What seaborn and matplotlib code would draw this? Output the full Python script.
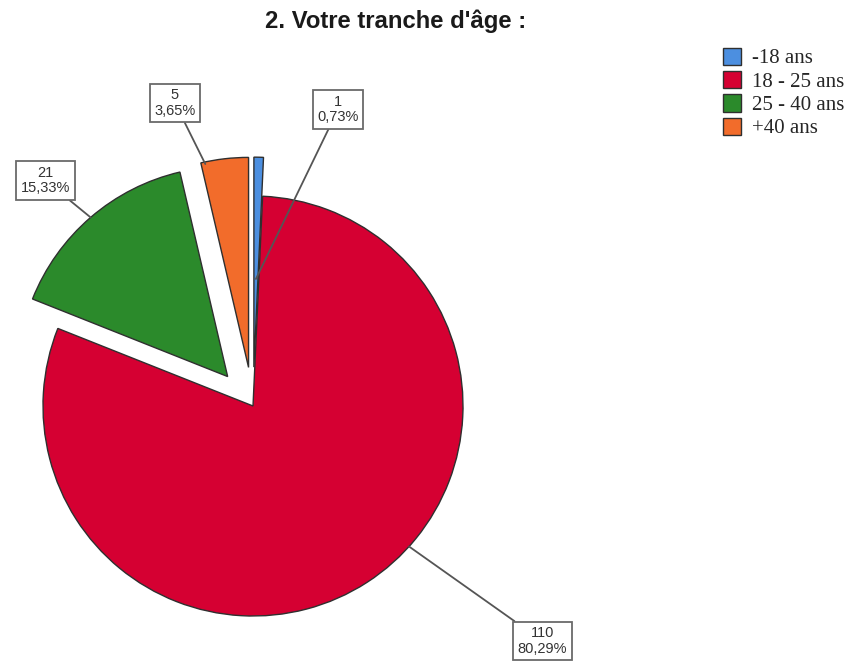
import numpy as np
import matplotlib
matplotlib.use("Agg")
import matplotlib.pyplot as plt
import seaborn as sns

# Survey answers: age brackets
categories = ["-18 ans", "18 - 25 ans", "25 - 40 ans", "+40 ans"]
counts = [1, 110, 21, 5]
colors = ["#4C8FE0", "#D50032", "#2B8A2B", "#F26C2B"]
explode_frac = [0.185, 0.0, 0.185, 0.185]

# Callout box centres (pixels, y up) and the point of each wedge they point at
box_xy = [(338, 555.5), (542.5, 24), (45.5, 484.5), (175, 562)]
anchor_angle = [None, -42.0, None, 102.0]   # None -> wedge mid-angle
anchor_rfrac = [0.42, 1.0, 1.0, 0.99]

sns.set_theme(style="white")

W, H = 854, 665
fig = plt.figure(figsize=(W / 100, H / 100), dpi=100)
ax = fig.add_axes([0, 0, 1, 1])

cx, cy, R = 253, H - 406, 210
wedges, _ = ax.pie(
    counts,
    colors=colors,
    explode=[f * R for f in explode_frac],   # pie offsets in data units
    startangle=90,
    counterclock=False,
    center=(cx, cy),
    radius=R,
    wedgeprops=dict(edgecolor="#2f2f2f", linewidth=1.0),
)
ax.set_xlim(0, W)
ax.set_ylim(0, H)
ax.set_aspect("equal")
ax.axis("off")

total = sum(counts)
for w, n, bxy, ang, rf in zip(wedges, counts, box_xy, anchor_angle, anchor_rfrac):
    a = (w.theta1 + w.theta2) / 2 if ang is None else ang
    px = w.center[0] + rf * w.r * np.cos(np.radians(a))
    py = w.center[1] + rf * w.r * np.sin(np.radians(a))
    pct = f"{100 * n / total:.2f}".replace(".", ",")
    ax.annotate(
        f"{n}\n{pct}%",
        xy=(px, py),
        xytext=bxy,
        ha="center",
        va="center",
        multialignment="center",
        fontsize=10.5,
        family="Liberation Sans",
        color="#333333",
        linespacing=1.15,
        bbox=dict(boxstyle="square,pad=0.3", fc="white", ec="#6a6a6a", lw=1.3),
        arrowprops=dict(arrowstyle="-", color="#555555", lw=1.3,
                        shrinkA=0, shrinkB=0),
    )

fig.text(395.5 / W, 1 - 28 / H, "2. Votre tranche d'âge :",
         ha="center", va="baseline", fontsize=17.2, fontweight="bold",
         family="Liberation Sans", color="#1a1a1a")

leg = fig.legend(
    wedges, categories,
    loc="upper left",
    bbox_to_anchor=(708 / W, 1 - 33 / H),
    frameon=False,
    prop=dict(family="Liberation Serif", size=15),
    handlelength=0.9,
    handleheight=0.9,
    handletextpad=0.5,
    labelspacing=0.12,
    borderpad=0.2,
)

fig.savefig("out.png", dpi=100)
